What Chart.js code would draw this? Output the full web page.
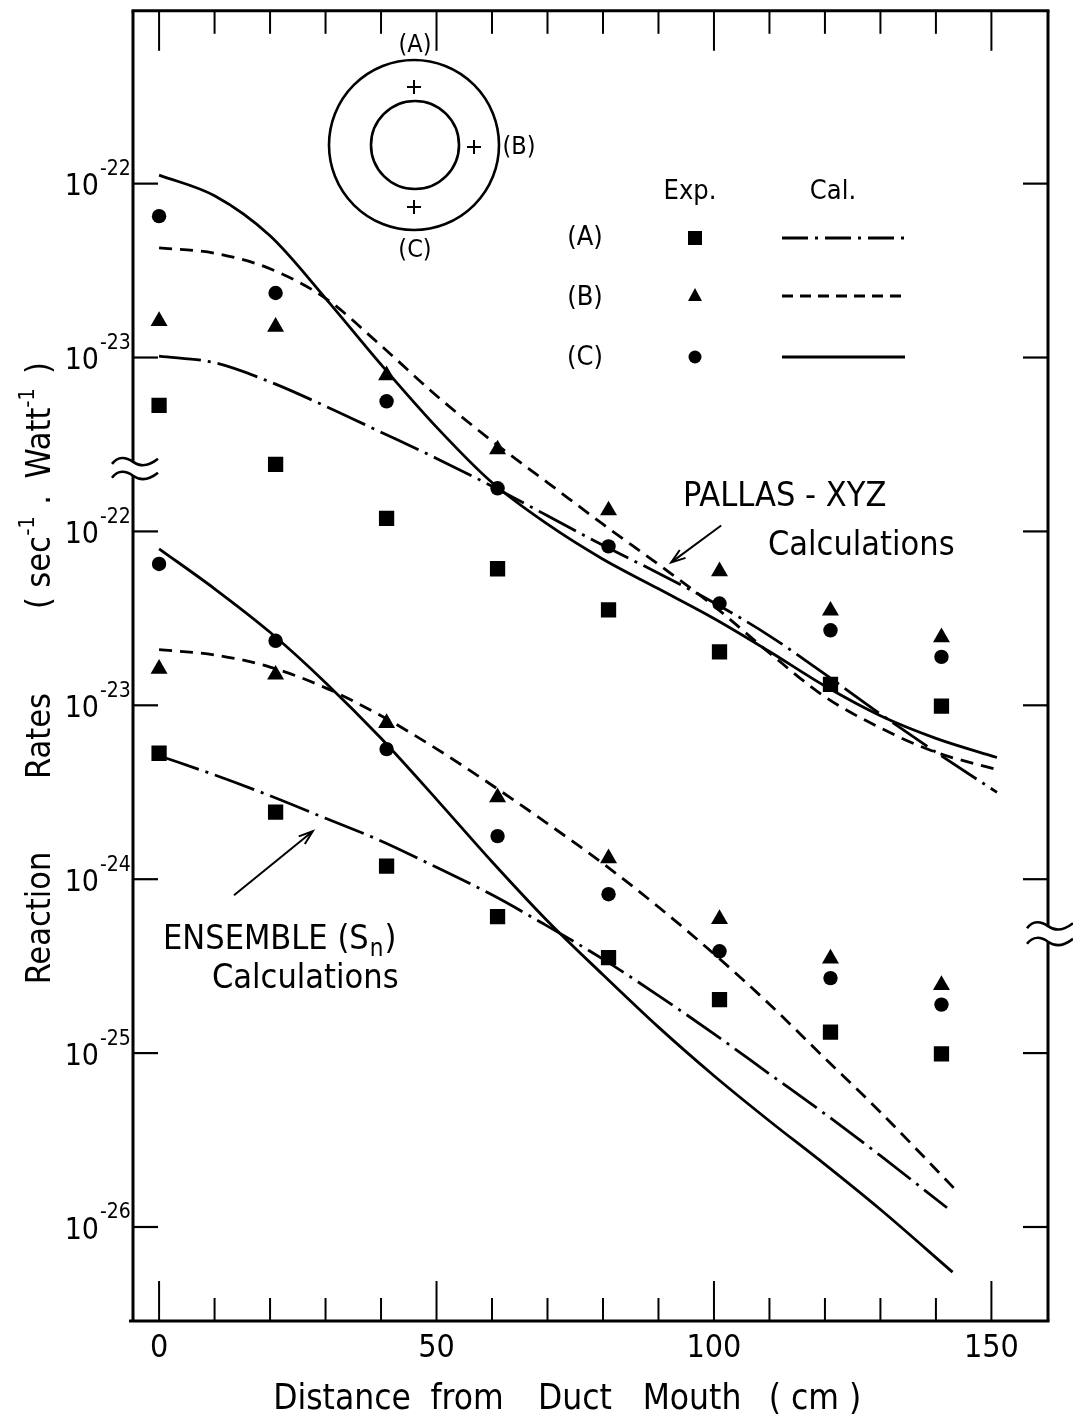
<!DOCTYPE html>
<html><head><meta charset="utf-8">
<script src="https://cdn.jsdelivr.net/npm/chart.js@4.4.1/dist/chart.umd.min.js"></script>
<style>html,body{margin:0;padding:0;background:#fff;}canvas{display:block;}</style>
</head><body>
<canvas id="c" width="1073" height="1422"></canvas>
<script>
// ---------- data (reaction rates, sec^-1 . Watt^-1) ----------
const expX = [0, 21, 41, 61, 81, 101, 121, 141];
const expA = [5.3e-24, 2.43e-24, 1.19e-24, 6.1e-25, 3.54e-25, 2.03e-25, 1.32e-25, 9.9e-26];
const expB = [1.62e-23, 1.5e-23, 7.9e-24, 2.96e-24, 1.32e-24, 5.9e-25, 3.5e-25, 2.46e-25];
const expC = [6.5e-23, 2.35e-23, 5.6e-24, 1.77e-24, 8.2e-25, 3.85e-25, 2.7e-25, 1.9e-25];

// PALLAS-XYZ calculations (upper group)
const pallasX = [0, 10, 20, 30, 40, 50, 60, 70, 80, 90, 100, 110, 120, 130, 140, 151];
const pallasA = [1.02e-23, 9.33e-24, 7.24e-24, 5.25e-24, 3.72e-24, 2.63e-24, 1.82e-24, 1.23e-24, 8.32e-25, 5.75e-25, 3.89e-25, 2.51e-25, 1.51e-25, 8.91e-26, 5.37e-26, 3.16e-26];
const pallasB = [4.27e-23, 3.98e-23, 3.24e-23, 2.19e-23, 1.17e-23, 6.03e-24, 3.31e-24, 1.91e-24, 1.1e-24, 6.46e-25, 3.72e-25, 2.0e-25, 1.12e-25, 7.41e-26, 5.37e-26, 4.27e-26];
const pallasC = [1.12e-22, 8.51e-23, 5.01e-23, 2.19e-23, 9.12e-24, 3.98e-24, 1.91e-24, 1.1e-24, 6.92e-25, 4.68e-25, 3.16e-25, 2.04e-25, 1.29e-25, 8.71e-26, 6.46e-26, 5.01e-26];

// ENSEMBLE (Sn) calculations (lower group)
const ensAX = [0, 10, 20, 30, 40, 50, 60, 70, 80, 90, 100, 110, 120, 130, 142];
const ensA = [5.13e-24, 3.98e-24, 3.02e-24, 2.24e-24, 1.66e-24, 1.17e-24, 8.13e-25, 5.37e-25, 3.47e-25, 2.14e-25, 1.29e-25, 7.59e-26, 4.47e-26, 2.57e-26, 1.29e-26];
const ensBX = [0, 10, 20, 30, 40, 50, 60, 70, 80, 90, 100, 110, 120, 130, 144];
const ensB = [2.09e-23, 1.95e-23, 1.66e-23, 1.26e-23, 8.71e-24, 5.62e-24, 3.47e-24, 2.09e-24, 1.23e-24, 6.92e-25, 3.72e-25, 1.91e-25, 9.33e-26, 4.57e-26, 1.58e-26];
const ensCX = [0, 10, 20, 30, 40, 50, 60, 70, 80, 90, 100, 110, 120, 130, 143];
const ensC = [7.94e-23, 4.68e-23, 2.63e-23, 1.35e-23, 6.46e-24, 2.88e-24, 1.26e-24, 5.75e-25, 2.82e-25, 1.41e-25, 7.41e-26, 4.07e-26, 2.29e-26, 1.26e-26, 5.5e-27];

// the upper (PALLAS) group is drawn two decades higher on the broken axis
const upperShift = 100;

// axis ticks
const xTickValues = [0, 50, 100, 150];
const yTickValues = [1e-20, 1e-21, 1e-22, 1e-23, 1e-24, 1e-25, 1e-26];
const yTickExponents = ['-22', '-23', '-22', '-23', '-24', '-25', '-26'];
const xMin = -4.7, xMax = 160.2;
const yMin = 2.88e-27, yMax = 9.86e-20;

// ---------- helpers ----------
const FONT = "'Liberation Sans Narrow','DejaVu Sans Condensed','Liberation Sans','DejaVu Sans',sans-serif";
const f = (s) => s + 'px ' + FONT;
const pts = (xs, ys, k) => xs.map((x, i) => ({ x: x, y: ys[i] * k }));
const DASH = [13, 8];
const DASHDOT = [42, 7, 3, 7];

function calc(xs, ys, k, dash) {
  return { data: pts(xs, ys, k), showLine: true, borderColor: '#000', borderWidth: 2.8,
           borderDash: dash, pointRadius: 0, pointHoverRadius: 0, cubicInterpolationMode: 'monotone', fill: false };
}
function exp(ys, k, style, r) {
  return { data: pts(expX, ys, k), showLine: false, pointStyle: style, pointRadius: r, pointHoverRadius: r,
           backgroundColor: '#000', borderColor: '#000', borderWidth: 0 };
}

const datasets = [
  calc(pallasX, pallasA, upperShift, DASHDOT),
  calc(pallasX, pallasB, upperShift, DASH),
  calc(pallasX, pallasC, upperShift, []),
  calc(ensAX, ensA, 1, DASHDOT),
  calc(ensBX, ensB, 1, DASH),
  calc(ensCX, ensC, 1, []),
  exp(expA, upperShift, 'rect', 10.8),
  exp(expB, upperShift, 'triangle', 9.8),
  exp(expC, upperShift, 'circle', 7.2),
  exp(expA, 1, 'rect', 10.8),
  exp(expB, 1, 'triangle', 9.8),
  exp(expC, 1, 'circle', 7.2)
];

// ---------- decorations: frame, inward ticks, breaks, labels, legend, notes ----------
const decor = {
  id: 'decor',
  afterDraw(chart) {
    const ctx = chart.ctx, xs = chart.scales.x, ys = chart.scales.y;
    const { left, right, top, bottom } = chart.chartArea;
    ctx.save();
    ctx.strokeStyle = '#000'; ctx.fillStyle = '#000'; ctx.lineCap = 'butt'; ctx.setLineDash([]);
    const seg = (x1, y1, x2, y2, w) => { ctx.lineWidth = w; ctx.beginPath(); ctx.moveTo(x1, y1); ctx.lineTo(x2, y2); ctx.stroke(); };
    const Y = (lg) => ys.getPixelForValue(Math.pow(10, lg));

    // frame with axis breaks
    const lb1 = Y(-21.60), lb2 = Y(-21.68);
    const rb1 = Y(-24.27), rb2 = Y(-24.36);
    seg(left - 1.5, top, right + 1.5, top, 3);
    seg(left - 4, bottom, right + 1.5, bottom, 3.2);
    seg(left, top, left, lb1, 3); seg(left, lb2, left, bottom, 3);
    seg(right, top, right, rb1, 3); seg(right, rb2, right, bottom, 3);
    const wave = (cx, y) => {
      ctx.lineWidth = 2.6; ctx.beginPath();
      ctx.moveTo(cx - 21, y + 2);
      ctx.bezierCurveTo(cx - 15, y - 6, cx - 7, y - 5, cx, y);
      ctx.bezierCurveTo(cx + 7, y + 5, cx + 15, y + 5, cx + 25, y - 3);
      ctx.stroke();
    };
    wave(left, lb1); wave(left, lb2);
    wave(right, rb1); wave(right, rb2);

    // inward ticks
    yTickValues.forEach(v => { const y = ys.getPixelForValue(v); seg(left, y, left + 25, y, 2.2); seg(right, y, right - 25, y, 2.2); });
    for (let t = 0; t <= 150; t += 10) {
      const x = xs.getPixelForValue(t), len = (t % 50 === 0) ? 40 : 23;
      seg(x, bottom, x, bottom - len, 2); seg(x, top, x, top + len, 2);
    }

    // y tick labels 10^n
    ctx.textBaseline = 'middle';
    yTickValues.forEach((v, i) => {
      const y = ys.getPixelForValue(v);
      ctx.font = f(30); ctx.textAlign = 'right'; ctx.fillText('10', 99, y + 4);
      ctx.font = f(21); ctx.textAlign = 'left'; ctx.fillText(yTickExponents[i], 100, y - 14);
    });

    // y title (rotated)
    ctx.save();
    ctx.translate(41, 0); ctx.rotate(-Math.PI / 2);
    ctx.textBaseline = 'middle'; ctx.textAlign = 'center';
    const at = (s, sz, yc, dy) => { ctx.font = f(sz); ctx.fillText(s, -yc, dy || 0); };
    at('Reaction', 34, 918);
    at('Rates', 34, 736);
    at('(', 34, 603);
    at('sec', 34, 562);
    at('-1', 22, 526, -13);
    at('.', 34, 500);
    at('Watt', 34, 443);
    at('-1', 22, 398, -13);
    at(')', 34, 368);
    ctx.restore();

    // x title
    ctx.font = f(35); ctx.textBaseline = 'middle'; ctx.textAlign = 'center';
    [['Distance', 342], ['from', 467], ['Duct', 575], ['Mouth', 692], ['( cm )', 815]].forEach(w => ctx.fillText(w[0], w[1], 1400));

    // sketch of the duct with positions (A)(B)(C)
    ctx.lineWidth = 2.6;
    ctx.beginPath(); ctx.arc(414, 145, 85, 0, Math.PI * 2); ctx.stroke();
    ctx.beginPath(); ctx.arc(415, 145, 44, 0, Math.PI * 2); ctx.stroke();
    const plus = (x, y) => { seg(x - 7, y, x + 7, y, 2); seg(x, y - 7, x, y + 7, 2); };
    plus(414, 87); plus(474, 147); plus(414, 207);
    ctx.font = f(25); ctx.textAlign = 'center';
    ctx.fillText('(A)', 415, 45); ctx.fillText('(B)', 519, 147); ctx.fillText('(C)', 415, 250);

    // legend table
    ctx.font = f(27);
    ctx.fillText('Exp.', 690, 192); ctx.fillText('Cal.', 833, 192);
    ctx.fillText('(A)', 585, 238); ctx.fillText('(B)', 585, 298); ctx.fillText('(C)', 585, 358);
    ctx.fillRect(688, 231, 14, 14);
    ctx.beginPath(); ctx.moveTo(695, 288); ctx.lineTo(702, 301); ctx.lineTo(688, 301); ctx.closePath(); ctx.fill();
    ctx.beginPath(); ctx.arc(695, 357, 6.5, 0, Math.PI * 2); ctx.fill();
    ctx.lineWidth = 2.8;
    ctx.setLineDash([26, 7, 3, 7]); ctx.beginPath(); ctx.moveTo(782, 238); ctx.lineTo(905, 238); ctx.stroke();
    ctx.setLineDash([11, 7]); ctx.beginPath(); ctx.moveTo(782, 296); ctx.lineTo(902, 296); ctx.stroke();
    ctx.setLineDash([]); ctx.beginPath(); ctx.moveTo(782, 357); ctx.lineTo(905, 357); ctx.stroke();

    // annotations
    const arrow = (xa, la, xb, lb) => {
      const x1 = xs.getPixelForValue(xa), y1 = Y(la), x2 = xs.getPixelForValue(xb), y2 = Y(lb);
      seg(x1, y1, x2, y2, 2);
      const a = Math.atan2(y2 - y1, x2 - x1), L = 15, s = 0.33;
      ctx.beginPath();
      ctx.moveTo(x2 - L * Math.cos(a - s), y2 - L * Math.sin(a - s));
      ctx.lineTo(x2, y2);
      ctx.lineTo(x2 - L * Math.cos(a + s), y2 - L * Math.sin(a + s));
      ctx.stroke();
    };
    ctx.font = f(34); ctx.textAlign = 'left';
    ctx.fillText('PALLAS - XYZ', 683, 497);
    ctx.fillText('Calculations', 768, 546);
    arrow(101.3, -21.966, 92.3, -22.178);

    ctx.fillText('ENSEMBLE (S', 163, 940);
    let q = 163 + ctx.measureText('ENSEMBLE (S').width;
    ctx.font = f(24); ctx.fillText('n', q + 1, 950); q += ctx.measureText('n').width + 2;
    ctx.font = f(34); ctx.fillText(')', q, 940);
    ctx.fillText('Calculations', 212, 979);
    arrow(13.5, -24.092, 27.7, -23.724);

    ctx.restore();
  }
};

new Chart(document.getElementById('c'), {
  type: 'scatter',
  data: { datasets: datasets },
  options: {
    responsive: false, animation: false, devicePixelRatio: 1,
    layout: { padding: { left: 0, right: 25, top: 10, bottom: 0 } },
    plugins: { legend: { display: false }, tooltip: { enabled: false } },
    scales: {
      x: {
        type: 'linear', position: 'bottom', min: xMin, max: xMax,
        afterBuildTicks: (s) => { s.ticks = xTickValues.map(v => ({ value: v })); },
        afterFit: (s) => { s.height = 101; },
        grid: { display: false, drawTicks: false }, border: { display: false },
        ticks: { color: '#000', font: { family: FONT, size: 32 }, padding: 8, maxRotation: 0, autoSkip: false }
      },
      y: {
        type: 'logarithmic', position: 'left', min: yMin, max: yMax, bounds: 'data',
        afterBuildTicks: (s) => { s.ticks = yTickValues.map(v => ({ value: v })); },
        afterFit: (s) => { s.width = 133; },
        grid: { display: false, drawTicks: false }, border: { display: false },
        ticks: { display: false }
      }
    }
  },
  plugins: [decor]
});
</script>
</body></html>
